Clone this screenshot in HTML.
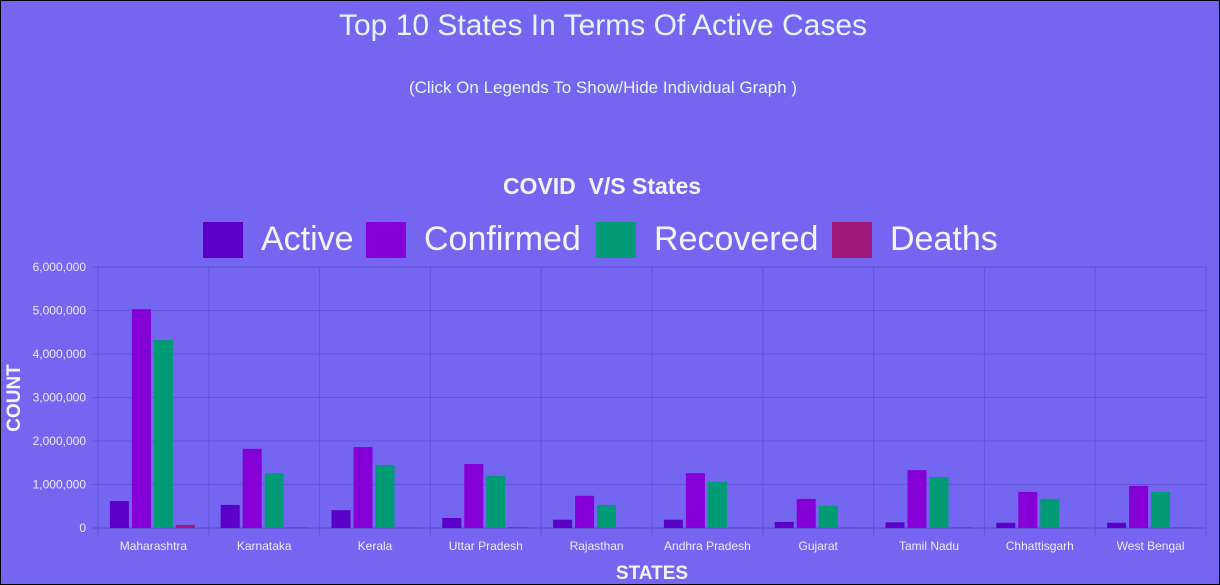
<!DOCTYPE html>
<html><head><meta charset="utf-8"><style>
html,body{margin:0;padding:0}
body{width:1220px;height:585px;background:#7566f2;font-family:"Liberation Sans",sans-serif;overflow:hidden;position:relative;box-sizing:border-box;border:1px solid #000}
.t1{position:absolute;top:8px;left:0;width:1204px;text-align:center;color:#e8f4ff;font-size:30px}
.t2{position:absolute;top:77px;left:0;width:1204px;text-align:center;color:#e8f4ff;font-size:17px}
</style></head><body>
<div class="t1">Top 10 States In Terms Of Active Cases</div>
<div class="t2">(Click On Legends To Show/Hide Individual Graph )</div>
<svg id="chart" width="1220" height="585" style="position:absolute;left:-1px;top:-1px"></svg>
<script>
const categories=["Maharashtra","Karnataka","Kerala","Uttar Pradesh","Rajasthan","Andhra Pradesh","Gujarat","Tamil Nadu","Chhattisgarh","West Bengal"];
const active=[620000,530000,410000,230000,190000,190000,140000,130000,120000,120000];
const confirmed=[5030000,1820000,1860000,1470000,740000,1260000,670000,1330000,830000,970000];
const recovered=[4320000,1260000,1450000,1200000,530000,1060000,510000,1170000,670000,830000];
const deaths=[70000,16000,6000,18000,7000,8000,9000,15000,10000,12000];
const yTicks=[0,1000000,2000000,3000000,4000000,5000000,6000000];
const seriesNames=["Active","Confirmed","Recovered","Deaths"];
const seriesColors=["#5a00c8","#8400d6","#009a74","#a0187a"];
const series=[active,confirmed,recovered,deaths];
const NS="http://www.w3.org/2000/svg";
const svg=document.getElementById('chart');
const X0=98,X1=1206,Y0=528,Y1=267,YMAX=6000000;
const cw=(X1-X0)/categories.length;
const y=v=>Y0-(v/YMAX)*(Y0-Y1);
function el(t,a,txt){const e=document.createElementNS(NS,t);for(const k in a)e.setAttribute(k,a[k]);if(txt!==undefined)e.textContent=txt;svg.appendChild(e);return e;}
let e;
e=el('text',{x:602,y:194,'text-anchor':'middle','font-size':23,'font-weight':'bold',fill:'#f4f4ff','xml:space':'preserve',style:'white-space:pre'},'COVID  V/S States');


const lx=[203,366,596,832];
seriesNames.forEach((n,i)=>{
 const r=el('rect',{x:lx[i],y:222,width:40,height:36,fill:seriesColors[i]});
 
 
 const t=el('text',{x:lx[i]+58,y:250,'font-size':34,fill:'#f4f4ff'},n);
 
 
});
yTicks.forEach(v=>{
 const l=el('line',{x1:X0-6,x2:X1,y1:y(v),y2:y(v),stroke:v===0?'#5a4cc0':'#6553d6','stroke-width':1});
 
 
 const t=el('text',{x:X0-12,y:y(v)+4,'text-anchor':'end','font-size':12,fill:'#ececff'},v.toLocaleString('en-US'));
 
 
});
for(let i=0;i<=categories.length;i++){
 const xx=X0+i*cw;
 const l=el('line',{x1:xx,x2:xx,y1:Y1,y2:Y0+8,stroke:'#6553d6','stroke-width':1});
 
 
}
categories.forEach((c,i)=>{
 const cx=X0+i*cw+cw/2;
 const t=el('text',{x:cx,y:550,'text-anchor':'middle','font-size':12,fill:'#ececff'},c);
 
 
 series.forEach((s,j)=>{
  const bx=cx-44+j*22+0.5;
  const r=el('rect',{x:bx,y:y(s[i]),width:19,height:Y0-y(s[i]),fill:seriesColors[j]});
  
  
 });
});
e=el('text',{x:652,y:579,'text-anchor':'middle','font-size':19,'font-weight':'bold',fill:'#f4f4ff'},'STATES');


e=el('text',{x:20,y:398,'text-anchor':'middle','font-size':19,'font-weight':'bold',fill:'#f4f4ff',transform:'rotate(-90 20 398)'},'COUNT');


</script>
</body></html>
